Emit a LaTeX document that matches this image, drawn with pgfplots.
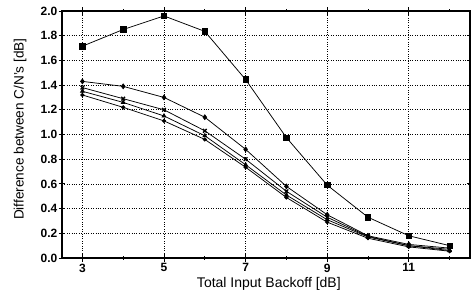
\documentclass[border=0pt]{standalone}
\usepackage{pgfplots}
\pgfplotsset{compat=1.18}
\usepackage{fontspec}
\setmainfont{Liberation Sans}
\usetikzlibrary{calc}
\begin{document}
\begin{tikzpicture}
\begin{axis}[
  scale only axis,
  width=408pt, height=247pt,
  xmin=2.5, xmax=12.5, ymin=0, ymax=2.0,
  xtick={3,5,7,9,11},
  minor xtick={4,6,8,10,12},
  ytick={0,0.2,...,2.0},
  yticklabel style={/pgf/number format/fixed,/pgf/number format/fixed zerofill,/pgf/number format/precision=1,font=\fontsize{12}{14}\selectfont\bfseries, inner xsep=1pt},
  xticklabel style={font=\fontsize{12}{14}\selectfont\bfseries, inner ysep=2pt},
  /pgf/number format/assume math mode=true,
  tick align=center,
  major tick length=7pt, minor tick length=3pt,
  tick style={black, line width=0.9pt},
  axis line style={line width=1.4pt},
  xmajorgrids, ymajorgrids,
  grid style={dotted, black, line width=0.7pt},
  xlabel={Total Input Backoff [dB]},
  ylabel={Difference between C/N's [dB]},
  xlabel style={font=\fontsize{14}{16}\selectfont, at={(axis description cs:0.507,-0.103)}, anchor=center},
  ylabel style={font=\fontsize{13.6}{16}\selectfont, at={(axis description cs:-0.1029,0.522)}, anchor=center},
  every axis plot/.append style={black, line width=0.75pt},
]
\addplot[mark=square*, mark size=2.7pt] coordinates {
 (3,1.715) (4,1.85) (5,1.96) (6,1.835) (7,1.445) (8,0.975) (9,0.59) (10,0.33) (11,0.18) (12,0.10)};
\addplot[mark=diamond*, mark size=2.4pt] coordinates {
 (3,1.43) (4,1.39) (5,1.30) (6,1.14) (7,0.88) (8,0.58) (9,0.35) (10,0.18) (11,0.11) (12,0.08)};
\addplot[mark=x, mark size=2.6pt, mark options={line width=1.3pt}] coordinates {
 (3,1.38) (4,1.29) (5,1.20) (6,1.03) (7,0.80) (8,0.54) (9,0.33) (10,0.175) (11,0.10) (12,0.07)};
\addplot[mark=triangle*, mark size=2.2pt] coordinates {
 (3,1.35) (4,1.26) (5,1.15) (6,0.99) (7,0.755) (8,0.51) (9,0.31) (10,0.17) (11,0.10) (12,0.06)};
\addplot[mark=*, mark size=1.7pt] coordinates {
 (3,1.32) (4,1.22) (5,1.11) (6,0.96) (7,0.735) (8,0.49) (9,0.29) (10,0.16) (11,0.09) (12,0.055)};
\end{axis}
\pgfresetboundingbox
\path ($(current axis.south west)+(-62pt,-39pt)$) rectangle ($(current axis.north east)+(1pt,11pt)$);
\end{tikzpicture}
\end{document}
